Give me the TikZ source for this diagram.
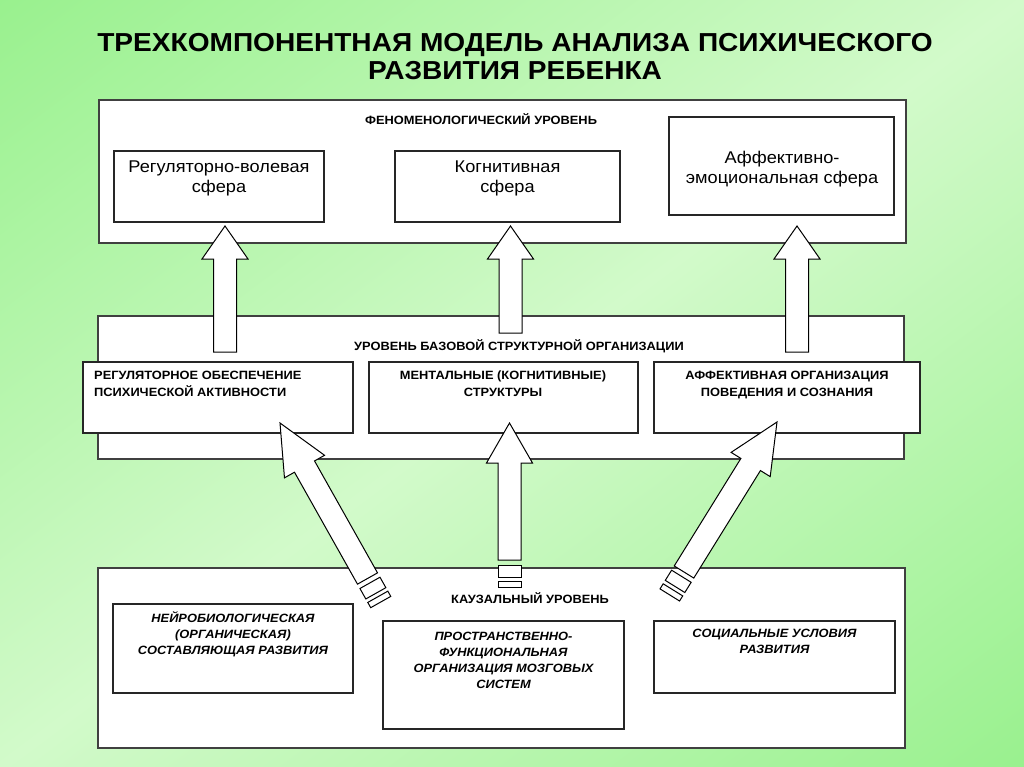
\documentclass[tikz,border=0pt]{standalone}
\usepackage{fontspec}
\setmainfont{Liberation Sans}[FakeStretch=1.07]
\newfontfamily\titlefont{Liberation Sans}[FakeStretch=1.08]
\usetikzlibrary{positioning,calc}

\definecolor{bggreen}{RGB}{130,237,118}
\definecolor{bglight}{RGB}{210,250,202}
\pgfdeclarehorizontalshading{slidebg}{100bp}{color(0bp)=(bggreen); color(50bp)=(bglight); color(100bp)=(bggreen)}

% fat block arrow: [head length]{tail}{tip}
\newcommand{\blockarrow}[3][36pt]{%
  \coordinate (hb) at ($(#3)!#1!(#2)$);
  \draw[fatarrow] ($(#2)!11.5pt!90:(#3)$) -- ($(hb)!11.5pt!90:(#3)$) -- ($(hb)!23pt!90:(#3)$) -- (#3)
    -- ($(hb)!23pt!-90:(#3)$) -- ($(hb)!11.5pt!-90:(#3)$) -- ($(#2)!11.5pt!-90:(#3)$) -- cycle;
}
% two bars behind the tail: {tail}{tip}
\newcommand{\tailbars}[2]{%
  \foreach \a/\b in {5pt/17pt,21pt/27pt}{
    \coordinate (sa) at ($(#1)!\a!180:(#2)$);
    \coordinate (sb) at ($(#1)!\b!180:(#2)$);
    \draw[fatarrow] ($(sa)!11.5pt!90:(#2)$) -- ($(sb)!11.5pt!90:(#2)$) -- ($(sb)!11.5pt!-90:(#2)$) -- ($(sa)!11.5pt!-90:(#2)$) -- cycle;
  }
}

\begin{document}
\begin{tikzpicture}[x=1pt, y=-1pt,
levelbox/.style={rectangle, draw=black!75, line width=1.4pt, fill=white, inner sep=0pt},
itembox/.style={rectangle, draw=black!85, line width=1.1pt, fill=white, inner sep=0pt},
fatarrow/.style={draw=black, line width=1pt, fill=white, line join=miter},
titletext/.style={font=\titlefont\fontsize{26}{28}\selectfont\bfseries, align=center, inner sep=0pt},
lvltext/.style={font=\fontsize{12}{14}\selectfont\bfseries, inner sep=0pt},
spheretext/.style={font=\fontsize{17}{20}\selectfont, align=center, inner sep=0pt},
basetext/.style={font=\fontsize{12}{17}\selectfont\bfseries, inner sep=0pt},
causetext/.style={font=\fontsize{12}{16}\selectfont\bfseries\itshape, align=center, inner sep=0pt},
]
\useasboundingbox (0,0) rectangle (1024,767);
%Background: light band from corner to corner
\begin{scope}[transform canvas={xscale=1024/767}]
\shade[shading=slidebg, shading angle=-45] (0,0) rectangle (767,767);
\end{scope}

%Title
\node[titletext, anchor=north] (title) at (515,33) {ТРЕХКОМПОНЕНТНАЯ МОДЕЛЬ АНАЛИЗА ПСИХИЧЕСКОГО\\РАЗВИТИЯ РЕБЕНКА};

%Levels
\node[levelbox, minimum width=807, minimum height=143] (phen) at (502.5,171.5) {};
\node[levelbox, minimum width=806, minimum height=143] (base) at (501,387.5) {};
\node[levelbox, minimum width=807, minimum height=180] (caus) at (501.5,658) {};
\node[lvltext, anchor=base] (phen-t) at (481,125) {ФЕНОМЕНОЛОГИЧЕСКИЙ УРОВЕНЬ};
\node[lvltext, anchor=base] (base-t) at (519,350) {УРОВЕНЬ БАЗОВОЙ СТРУКТУРНОЙ ОРГАНИЗАЦИИ};
\node[lvltext, anchor=base] (caus-t) at (530,603) {КАУЗАЛЬНЫЙ УРОВЕНЬ};

%Spheres
\node[itembox, minimum width=210, minimum height=71] (reg) at (219,186.5) {};
\node[itembox, minimum width=225, minimum height=71] (cog) at (507.5,186.5) {};
\node[itembox, minimum width=225, minimum height=98] (aff) at (781.5,166) {};
\node[spheretext, anchor=north] (reg-t) at (219,161) {Регуляторно-волевая\\сфера};
\node[spheretext, anchor=north] (cog-t) at (507.5,161) {Когнитивная\\сфера};
\node[spheretext, anchor=north] (aff-t) at (782,151) {Аффективно-\\эмоциональная сфера};

%Basic structures
\node[itembox, minimum width=270, minimum height=71] (regm) at (218,397.5) {};
\node[itembox, minimum width=269, minimum height=71] (ment) at (503.5,397.5) {};
\node[itembox, minimum width=266, minimum height=71] (affm) at (787,397.5) {};
\node[basetext, align=left, anchor=north west] (regm-t) at (94,371) {РЕГУЛЯТОРНОЕ ОБЕСПЕЧЕНИЕ\\ПСИХИЧЕСКОЙ АКТИВНОСТИ};
\node[basetext, align=center, anchor=north] (ment-t) at (503,371) {МЕНТАЛЬНЫЕ (КОГНИТИВНЫЕ)\\СТРУКТУРЫ};
\node[basetext, align=center, anchor=north] (affm-t) at (787,371) {АФФЕКТИВНАЯ ОРГАНИЗАЦИЯ\\ПОВЕДЕНИЯ И СОЗНАНИЯ};

%Causes
\node[itembox, minimum width=240, minimum height=89] (neuro) at (233,648.5) {};
\node[itembox, minimum width=241, minimum height=108] (spat) at (503.5,675) {};
\node[itembox, minimum width=241, minimum height=72] (soc) at (774.5,657) {};
\node[causetext, anchor=north] (neuro-t) at (233,611) {НЕЙРОБИОЛОГИЧЕСКАЯ\\(ОРГАНИЧЕСКАЯ)\\СОСТАВЛЯЮЩАЯ РАЗВИТИЯ};
\node[causetext, anchor=north] (spat-t) at (503.5,632) {ПРОСТРАНСТВЕННО-\\ФУНКЦИОНАЛЬНАЯ\\ОРГАНИЗАЦИЯ МОЗГОВЫХ\\СИСТЕМ};
\node[causetext, anchor=north] (soc-t) at (774.5,629) {СОЦИАЛЬНЫЕ УСЛОВИЯ\\РАЗВИТИЯ};

%Arrow ends
\coordinate (up1-s) at (225,352);
\coordinate (up1-e) at (225,226);
\coordinate (up2-s) at (510.5,333);
\coordinate (up2-e) at (510.5,226);
\coordinate (up3-s) at (797,352);
\coordinate (up3-e) at (797,226);
\coordinate (in1-s) at (367.5,578.5);
\coordinate (in1-e) at (280,423);
\coordinate (in2-s) at (509.5,560);
\coordinate (in2-e) at (509.5,423);
\coordinate (in3-s) at (684,572);
\coordinate (in3-e) at (777,422);

%Arrows
\blockarrow[33pt]{up1-s}{up1-e}
\blockarrow[33pt]{up2-s}{up2-e}
\blockarrow[33pt]{up3-s}{up3-e}
\blockarrow[50pt]{in1-s}{in1-e}
\tailbars{in1-s}{in1-e}
\blockarrow[40pt]{in2-s}{in2-e}
\tailbars{in2-s}{in2-e}
\blockarrow[50pt]{in3-s}{in3-e}
\tailbars{in3-s}{in3-e}
\end{tikzpicture}
\end{document}
